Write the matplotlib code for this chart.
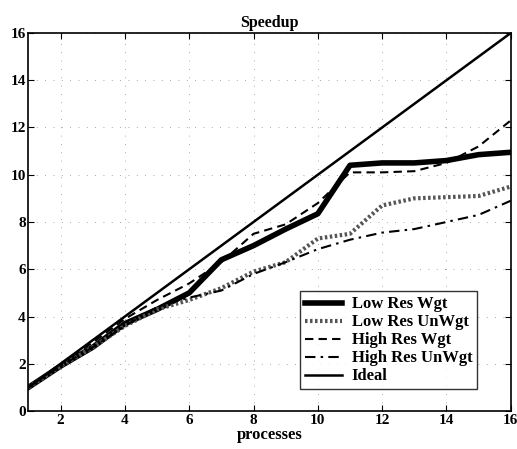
import numpy as np
from matplotlib import pyplot as plt

procs = np.arange(1, 17)
low_wgt = [1.0, 1.9, 2.7, 3.7, 4.3, 5.0, 6.4, 7.0, 7.7, 8.35, 10.4, 10.5, 10.5, 10.6, 10.85, 10.95]
low_unwgt = [1.0, 1.9, 2.7, 3.6, 4.3, 4.7, 5.2, 5.9, 6.3, 7.3, 7.5, 8.7, 9.0, 9.05, 9.1, 9.5]
high_wgt = [1.0, 2.0, 2.9, 3.9, 4.7, 5.4, 6.3, 7.5, 7.9, 8.8, 10.1, 10.1, 10.15, 10.5, 11.2, 12.3]
high_unwgt = [1.0, 1.9, 2.7, 3.6, 4.4, 4.8, 5.1, 5.8, 6.3, 6.85, 7.25, 7.55, 7.7, 8.0, 8.3, 8.9]
ideal = procs

plt.rcParams['font.family'] = ['Liberation Serif', 'DejaVu Serif']
plt.rcParams['font.weight'] = 'bold'

fig = plt.figure(figsize=(5.17, 4.49), dpi=100)
ax = fig.add_axes([0.055, 0.0846, 0.933, 0.842])

ax.plot(procs, low_wgt, color='black', lw=4, label='Low Res Wgt')
ax.plot(procs, low_unwgt, color='#555555', lw=3, linestyle=(0, (0.6, 0.6)), label='Low Res UnWgt')
ax.plot(procs, high_wgt, color='black', lw=1.5, linestyle=(0, (4, 2.5)), label='High Res Wgt')
ax.plot(procs, high_unwgt, color='black', lw=1.5, linestyle=(0, (5, 2.5, 1.2, 2.5)), label='High Res UnWgt')
ax.plot(procs, ideal, color='black', lw=1.8, label='Ideal')

ax.set_xlim(1, 16)
ax.set_ylim(0, 16)
ax.set_xticks(range(2, 17, 2))
ax.set_yticks(range(0, 17, 2))
ax.tick_params(direction='in', top=True, right=True, labelsize=11, length=4, pad=2)
for lbl in ax.get_xticklabels() + ax.get_yticklabels():
    lbl.set_fontweight('bold')
ax.grid(True, color='#888888', linestyle=(0, (1, 9)), linewidth=0.6)
for s in ax.spines.values():
    s.set_linewidth(1.2)

ax.set_title('Speedup', fontsize=11.5, fontweight='bold', pad=4)
ax.set_xlabel('processes', fontsize=12, fontweight='bold', labelpad=0)

leg = ax.legend(loc='lower right', fontsize=12, frameon=True, fancybox=False,
                edgecolor='black', handlelength=2.2, borderpad=0.3, labelspacing=0.12,
                handletextpad=0.6, bbox_to_anchor=(0.948, 0.035))
leg.get_frame().set_linewidth(1.0)
for t in leg.get_texts():
    t.set_fontweight('bold')

fig.savefig('out.png', dpi=100)
